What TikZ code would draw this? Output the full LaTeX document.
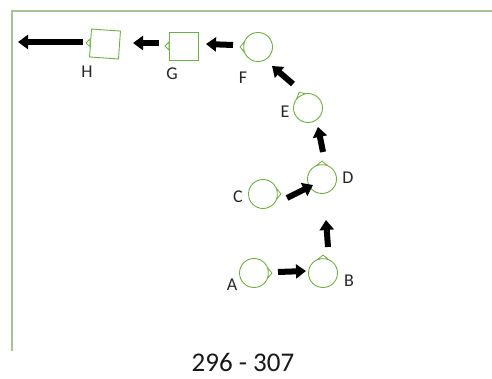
\documentclass[tikz,border=0pt]{standalone}
\usepackage{fontspec}
\setmainfont{Carlito}
\usetikzlibrary{arrows.meta,calc}
\definecolor{shp}{HTML}{70AD47}
\definecolor{frm}{HTML}{A9C29A}
\begin{document}
\begin{tikzpicture}[x=1pt,y=-1pt,
  st/.style={circle,draw=shp,line width=0.9pt,minimum size=29pt,inner sep=0pt},
  sq/.style={rectangle,draw=shp,line width=0.9pt,minimum width=29pt,minimum height=28pt,inner sep=0pt},
  lbl/.style={font=\fontsize{18}{18}\selectfont,text=black!85,inner sep=0pt},
  notchln/.style={draw=shp,line width=0.8pt,fill=white},
  blk/.style={line width=6pt,-{Triangle[length=10pt,width=14pt]},black}]
\useasboundingbox (0,0) rectangle (492,379);
% frame
\draw[frm,line width=1.2pt] (12,351) -- (12,11) -- (492,11);
% shapes
\node[st] (A) at (254,273) {};
\node[st] (B) at (323,273) {};
\node[st] (C) at (263,194) {};
\node[st] (D) at (322,179) {};
\node[st] (E) at (308,108) {};
\node[st] (F) at (258,47) {};
\node[sq] (G) at (184,46) {};
\node[sq,rotate=-4] (H) at (105,44) {};
% notches
\foreach \n/\a in {A/0,B/90,C/0,D/90,E/120,F/180}{
  \draw[notchln] (\n.\a+18) -- ($(\n.center)!1.2!(\n.\a)$) -- (\n.\a-18) -- cycle;
}
\draw[notchln] ([yshift=-4pt]G.west) -- ([xshift=-4pt]G.west) -- ([yshift=4pt]G.west) -- cycle;
\draw[notchln] ([yshift=-4pt]H.west) -- ([xshift=-4pt]H.west) -- ([yshift=4pt]H.west) -- cycle;
% labels
\node[lbl] (lA) at (232,285) {A};
\node[lbl] (lB) at (349,281) {B};
\node[lbl] (lC) at (238,197) {C};
\node[lbl] (lD) at (348,178) {D};
\node[lbl] (lE) at (285,112) {E};
\node[lbl] (lF) at (243,78) {F};
\node[lbl] (lG) at (172,74) {G};
\node[lbl] (lH) at (87,72) {H};
% arrow end points
\coordinate (ab1) at (278,272); \coordinate (ab2) at (306,271);
\coordinate (bd1) at (328,247); \coordinate (bd2) at (326,220);
\coordinate (cd1) at (287,198); \coordinate (cd2) at (313,185);
\coordinate (de1) at (323,152); \coordinate (de2) at (318,127);
\coordinate (ef1) at (293,84);  \coordinate (ef2) at (272,66);
\coordinate (fg1) at (233,45);  \coordinate (fg2) at (206,44);
\coordinate (gh1) at (159,43);  \coordinate (gh2) at (133,43);
\coordinate (ho1) at (83,42);   \coordinate (ho2) at (18,42);
\foreach \s/\e in {ab1/ab2,bd1/bd2,cd1/cd2,de1/de2,ef1/ef2,fg1/fg2,gh1/gh2,ho1/ho2}
  \draw[blk] (\s) -- (\e);
% caption
\node[font=\fontsize{27}{27}\selectfont,text=black!90,inner sep=0pt,anchor=base] (cap) at (243,371) {296 - 307};
\end{tikzpicture}
\end{document}
